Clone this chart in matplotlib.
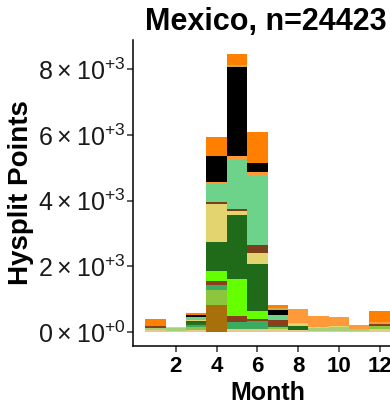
import matplotlib
matplotlib.use("Agg")
import matplotlib.pyplot as plt
import numpy as np

plt.rcParams["font.family"] = ["Liberation Sans", "DejaVu Sans"]
plt.rcParams["mathtext.fontset"] = "custom"
plt.rcParams["mathtext.rm"] = "Liberation Sans"

months = np.arange(1, 13)

# Monthly trajectory-point counts per land-cover class, stacked bottom to top
wheat       = [50, 20, 70, 0, 100, 100, 100, 50, 40, 30, 48, 100]
palegreen   = [70, 95, 0, 0, 0, 0, 0, 0, 82, 130, 60, 0]
goldenrod   = [0, 0, 0, 827, 0, 0, 0, 0, 0, 0, 0, 0]
olive       = [0, 0, 72, 464, 0, 0, 60, 0, 0, 0, 0, 91]
seagreen    = [0, 0, 82, 142, 203, 252, 0, 0, 0, 0, 0, 0]
forest      = [0, 0, 48, 0, 0, 0, 60, 0, 0, 0, 0, 0]
brown       = [70, 0, 0, 121, 200, 52, 160, 0, 0, 0, 0, 45]
bright      = [0, 0, 0, 312, 1112, 252, 0, 0, 0, 0, 0, 0]
darkgreen   = [0, 0, 60, 870, 1939, 1415, 0, 133, 0, 0, 0, 0]
khaki       = [0, 30, 42, 1151, 121, 333, 0, 91, 30, 30, 0, 0]
brown2      = [0, 0, 0, 61, 61, 252, 0, 0, 0, 0, 0, 0]
lightgreen  = [0, 0, 79, 545, 1545, 2112, 100, 0, 0, 0, 0, 0]
lightorange = [0, 0, 0, 61, 61, 100, 40, 433, 333, 264, 103, 67]
black       = [0, 0, 79, 788, 2718, 285, 142, 0, 0, 0, 0, 0]
gold        = [0, 0, 0, 0, 70, 0, 60, 0, 0, 0, 0, 0]
orange      = [212, 0, 42, 606, 333, 927, 91, 0, 0, 0, 0, 333]

layers = [
    (wheat, "#E7C98E"),
    (palegreen, "#A7CF78"),
    (goldenrod, "#A8700A"),
    (olive, "#8CC63F"),
    (seagreen, "#3CAB5E"),
    (forest, "#2F6E2A"),
    (brown, "#8B3E1E"),
    (bright, "#66FF00"),
    (darkgreen, "#1F6B1A"),
    (khaki, "#E3D470"),
    (brown2, "#7B3F1A"),
    (lightgreen, "#6DD38A"),
    (lightorange, "#FF9A3A"),
    (black, "#000000"),
    (gold, "#CDAA4A"),
    (orange, "#FF7F00"),
]

W, H = 390, 408
fig = plt.figure(figsize=(W / 100, H / 100), dpi=100)
ax = fig.add_axes([133 / W, (H - 346) / H, (402 - 133) / W, 306 / H])

bottom = np.zeros(len(months))
for vals, col in layers:
    vals = np.asarray(vals, dtype=float)
    ax.bar(months, vals, width=1.0, bottom=bottom, color=col, linewidth=0)
    bottom += vals

ymax = bottom.max()
pad = 0.05 * ymax
ax.set_ylim(-pad, ymax + pad)
ax.set_xlim(0.5 - 0.6, 12.5 + 0.6)

yticks = [0, 2000, 4000, 6000, 8000]
ylabels = [r"$\mathregular{0\times10^{+0}}$"] + [
    r"$\mathregular{%d\times10^{+3}}$" % (v // 1000) for v in yticks[1:]
]
ax.set_yticks(yticks)
ax.set_yticklabels(ylabels, fontsize=18, color="#1a1a1a")
ax.set_xticks(range(2, 13, 2))
ax.set_xticklabels([str(m) for m in range(2, 13, 2)], fontsize=16,
                   fontweight="bold", color="black")

for side in ("top", "right"):
    ax.spines[side].set_visible(False)
for side in ("left", "bottom"):
    ax.spines[side].set_linewidth(1.1)
    ax.spines[side].set_color("black")
ax.tick_params(axis="both", length=4, width=1.1, color="#333333")
ax.tick_params(axis="x", pad=3)
ax.tick_params(axis="y", pad=1.5)

ax.set_xlabel("Month", fontsize=18, fontweight="bold")
ax.set_ylabel("Hysplit Points", fontsize=20, fontweight="bold")
ax.xaxis.set_label_coords(0.5, (346 - 393) / 306)
ax.xaxis.label.set_va("center")
ax.yaxis.set_label_coords((21 - 133) / 269, 0.5)
ax.yaxis.label.set_va("center")

fig.text(145 / W, 1 - 22 / H, "Mexico, n=24423", ha="left", va="center",
         fontsize=22, fontweight="bold")

fig.savefig("out.png", dpi=100)
